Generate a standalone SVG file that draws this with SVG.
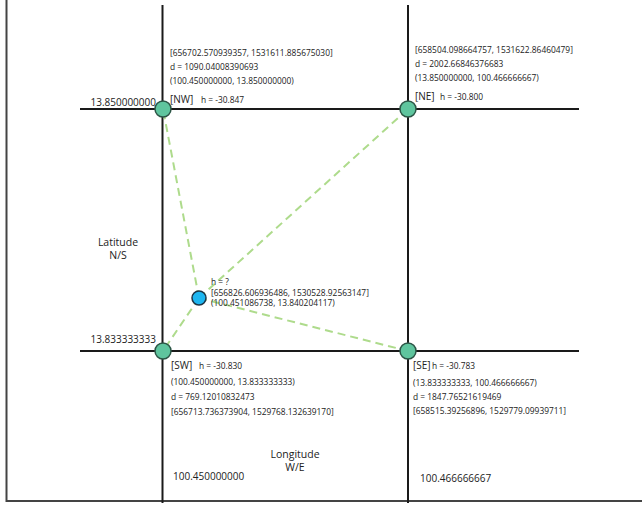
<svg xmlns="http://www.w3.org/2000/svg" width="642" height="513" viewBox="0 0 642 513">
<style>
.frame{stroke:#444;stroke-width:2;fill:none}
.grid{stroke:#1a1a1a;stroke-width:2;fill:none}
.dash{stroke:#aedb8c;stroke-width:2;stroke-dasharray:8 5;fill:none}
.corner{fill:#5fc59e;stroke:#2c5546;stroke-width:1.5}
.pt{fill:#1db6f0;stroke:#1d3446;stroke-width:1.5}
text{font-family:"Open Sans","Noto Sans","Liberation Sans",sans-serif;fill:#222}
.s{font-size:8.4px}
.m{font-size:10px}
.l{font-size:10.5px}
</style>
<rect width="642" height="513" fill="#fff"/>
<g id="frame">
<path class="frame" d="M6.5,0 V501 H642"/>
</g>
<g id="grid">
<line class="grid" x1="162.5" y1="5" x2="162.5" y2="503"/>
<line class="grid" x1="408" y1="5" x2="408" y2="503"/>
<line class="grid" x1="80" y1="109" x2="579" y2="109"/>
<line class="grid" x1="80" y1="351" x2="579" y2="351"/>
</g>
<g id="connectors">
<line class="dash" x1="199" y1="298" x2="163" y2="109"/>
<line class="dash" x1="199" y1="298" x2="408" y2="109"/>
<line class="dash" x1="199" y1="298" x2="163" y2="351"/>
<line class="dash" x1="199" y1="298" x2="408" y2="351"/>
</g>
<g id="NW">
<circle class="corner" cx="163" cy="109" r="8"/>
<text class="s" x="170" y="56">[656702.570939357, 1531611.885675030]</text>
<text class="s" x="170" y="70">d = 1090.04008390693</text>
<text class="s" x="170" y="84">(100.450000000, 13.850000000)</text>
<text class="m" x="170" y="103">[NW]</text>
<text class="s" x="201" y="103">h = -30.847</text>
</g>
<g id="NE">
<circle class="corner" cx="408" cy="109" r="8"/>
<text class="s" x="415" y="53">[658504.098664757, 1531622.86460479]</text>
<text class="s" x="415" y="67">d = 2002.66846376683</text>
<text class="s" x="415" y="81">(13.850000000, 100.466666667)</text>
<text class="m" x="415" y="100">[NE]</text>
<text class="s" x="440" y="100">h = -30.800</text>
</g>
<g id="SW">
<circle class="corner" cx="163" cy="351" r="8"/>
<text class="m" x="171" y="369">[SW]</text>
<text class="s" x="199" y="369">h = -30.830</text>
<text class="s" x="171" y="385">(100.450000000, 13.833333333)</text>
<text class="s" x="171" y="400">d = 769.12010832473</text>
<text class="s" x="171" y="415">[656713.736373904, 1529768.132639170]</text>
</g>
<g id="SE">
<circle class="corner" cx="408" cy="351" r="8"/>
<text class="m" x="413" y="369">[SE]</text>
<text class="s" x="432" y="369">h = -30.783</text>
<text class="s" x="413" y="386">(13.833333333, 100.466666667)</text>
<text class="s" x="413" y="400">d = 1847.76521619469</text>
<text class="s" x="413" y="414">[658515.39256896, 1529779.09939711]</text>
</g>
<g id="P">
<circle class="pt" cx="199" cy="298" r="7"/>
<text class="s" x="211" y="285">h = ?</text>
<text class="s" x="211" y="296">[656826.606936486, 1530528.92563147]</text>
<text class="s" x="211" y="306">(100.451086738, 13.840204117)</text>
</g>
<g id="axes">
<text class="m" x="156" y="106" text-anchor="end">13.850000000</text>
<text class="m" x="156" y="343" text-anchor="end">13.833333333</text>
<text class="l" x="118" y="246" text-anchor="middle">Latitude</text>
<text class="l" x="118" y="259" text-anchor="middle">N/S</text>
<text class="l" x="295" y="458" text-anchor="middle">Longitude</text>
<text class="l" x="295" y="471" text-anchor="middle">W/E</text>
<text class="m" x="173" y="480">100.450000000</text>
<text class="m" x="420" y="482">100.466666667</text>
</g>
</svg>
